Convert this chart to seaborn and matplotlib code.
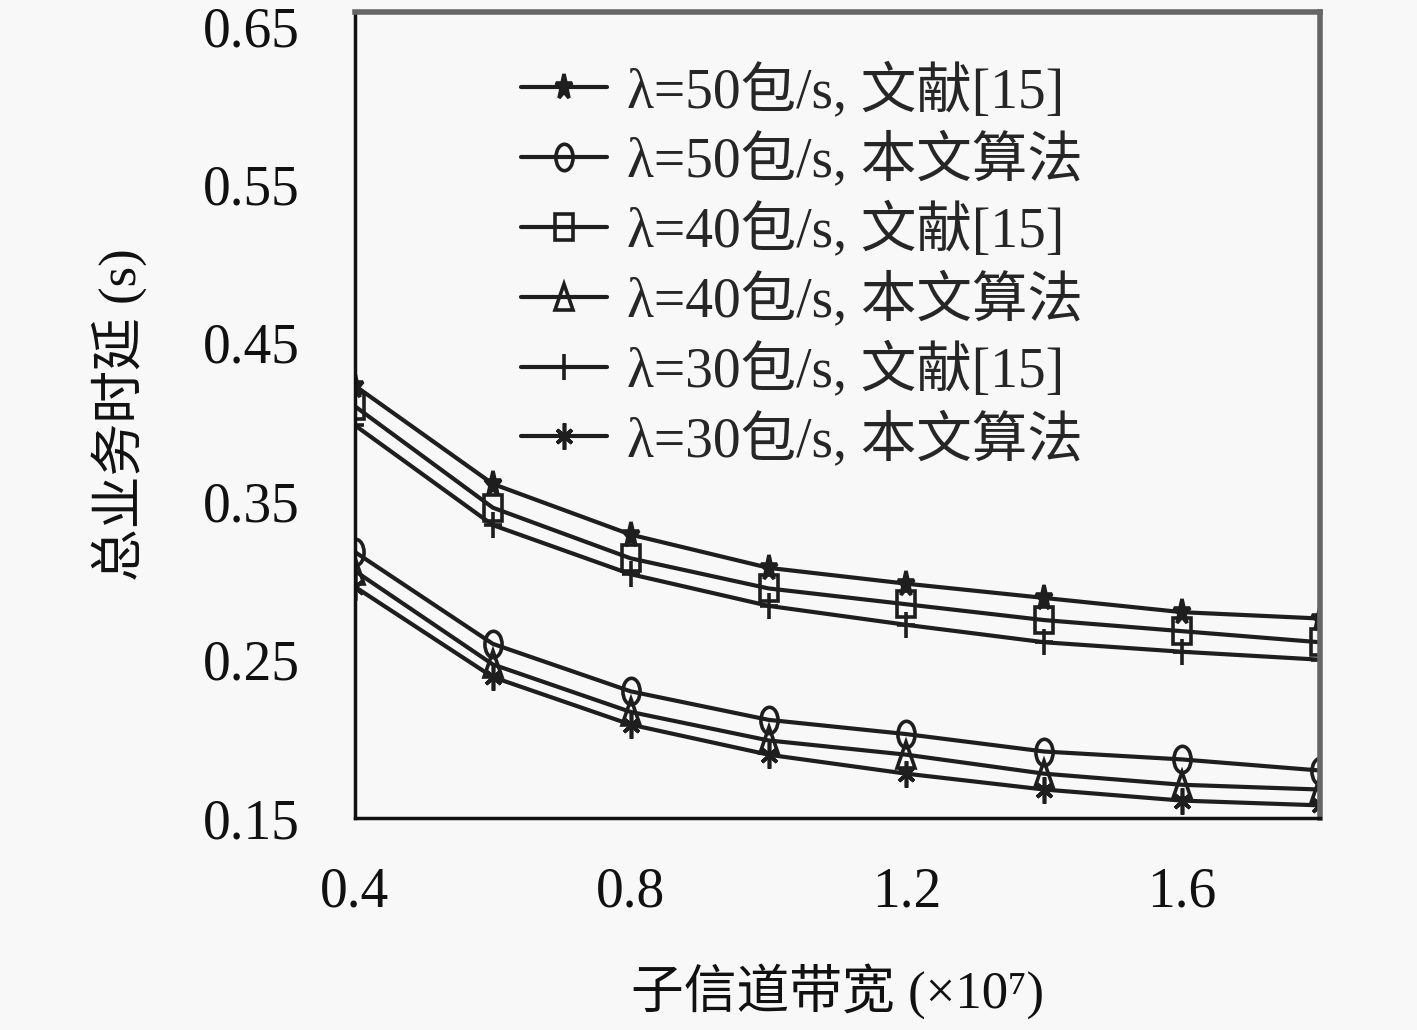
import numpy as np
import pandas as pd
import matplotlib
matplotlib.use("Agg")
import matplotlib.pyplot as plt
from matplotlib.markers import MarkerStyle
from matplotlib.transforms import Affine2D
from matplotlib.ticker import FixedLocator
import seaborn as sns

# data
bandwidth = [0.4, 0.6, 0.8, 1.0, 1.2, 1.4, 1.6, 1.8]
ref50 = [0.423, 0.361, 0.329, 0.308, 0.298, 0.289, 0.280, 0.276]
ref40 = [0.410, 0.346, 0.314, 0.295, 0.285, 0.275, 0.268, 0.261]
ref30 = [0.398, 0.335, 0.304, 0.284, 0.272, 0.261, 0.255, 0.250]
our50 = [0.318, 0.260, 0.230, 0.212, 0.203, 0.192, 0.187, 0.180]
our40 = [0.306, 0.247, 0.217, 0.199, 0.190, 0.178, 0.171, 0.168]
our30 = [0.296, 0.239, 0.209, 0.190, 0.178, 0.168, 0.161, 0.158]
labels = ["λ=50包/s, 文献[15]", "λ=50包/s, 本文算法",
          "λ=40包/s, 文献[15]", "λ=40包/s, 本文算法",
          "λ=30包/s, 文献[15]", "λ=30包/s, 本文算法"]
series = [ref50, our50, ref40, our40, ref30, our30]
xticks = [0.4, 0.8, 1.2, 1.6]
yticks = [0.15, 0.25, 0.35, 0.45, 0.55, 0.65]

sns.set_theme(style="white")
plt.rcParams['font.family'] = ['Liberation Serif', 'Noto Sans CJK SC']
plt.rcParams['axes.unicode_minus'] = False

squash = Affine2D().scale(0.65, 1.0)
markers = [("*", True), ("o", False), ("s", False), ("^", False), ("+", True), ((6, 2, 0), True)]

fig = plt.figure(figsize=(14.17, 10.30), dpi=100, facecolor="#f8f8f8")
ax = fig.add_axes([0.2505, 0.2058, 0.681, 0.7825])
ax.set_facecolor("#f8f8f8")

line_c = "#1e1e1e"
for lab, vals, (m, filled) in zip(labels, series, markers):
    df = pd.DataFrame({"x": bandwidth, "y": vals})
    sns.lineplot(data=df, x="x", y="y", ax=ax, color=line_c, linewidth=3,
                 marker=MarkerStyle(m, transform=squash), markersize=19,
                 markeredgewidth=2.6, markeredgecolor=line_c,
                 markerfacecolor=line_c if filled else "none",
                 label=lab)

ax.set_xlim(0.4, 1.8)
ax.set_ylim(0.15, 0.659)
ax.xaxis.set_major_locator(FixedLocator(xticks))
ax.xaxis.set_minor_locator(FixedLocator([0.6, 1.0, 1.4, 1.8]))
ax.yaxis.set_major_locator(FixedLocator(yticks))
ax.yaxis.set_minor_locator(FixedLocator([0.2, 0.3, 0.4, 0.5, 0.6]))
ax.set_xticklabels([f"{v:.1f}" for v in xticks])
ax.set_yticklabels([f"{v:.2f}" for v in yticks])
ax.tick_params(which="both", direction="in", length=12, width=2, color="#333333",
               labelsize=40, labelcolor="#111111")
ax.tick_params(axis="x", pad=35)
ax.tick_params(axis="y", pad=40)

for side in ["left", "bottom"]:
    ax.spines[side].set_color("#111111")
    ax.spines[side].set_linewidth(2.5)
for side in ["top", "right"]:
    ax.spines[side].set_color("#666666")
    ax.spines[side].set_linewidth(4)

ax.set_xlabel("子信道带宽 (×10⁷)", fontsize=38, color="#111111")
ax.xaxis.set_label_coords(0.5, -0.18)
ax.set_ylabel("总业务时延 (s)", fontsize=38, color="#111111")
ax.yaxis.set_label_coords(-0.215, 0.5)

ax.legend(loc="upper left", bbox_to_anchor=(0.132, 0.985), frameon=False, fontsize=40,
          handlelength=1.55, handletextpad=0.35, labelspacing=0.25, borderaxespad=0.3)

fig.savefig("out.png", dpi=100, facecolor=fig.get_facecolor())
